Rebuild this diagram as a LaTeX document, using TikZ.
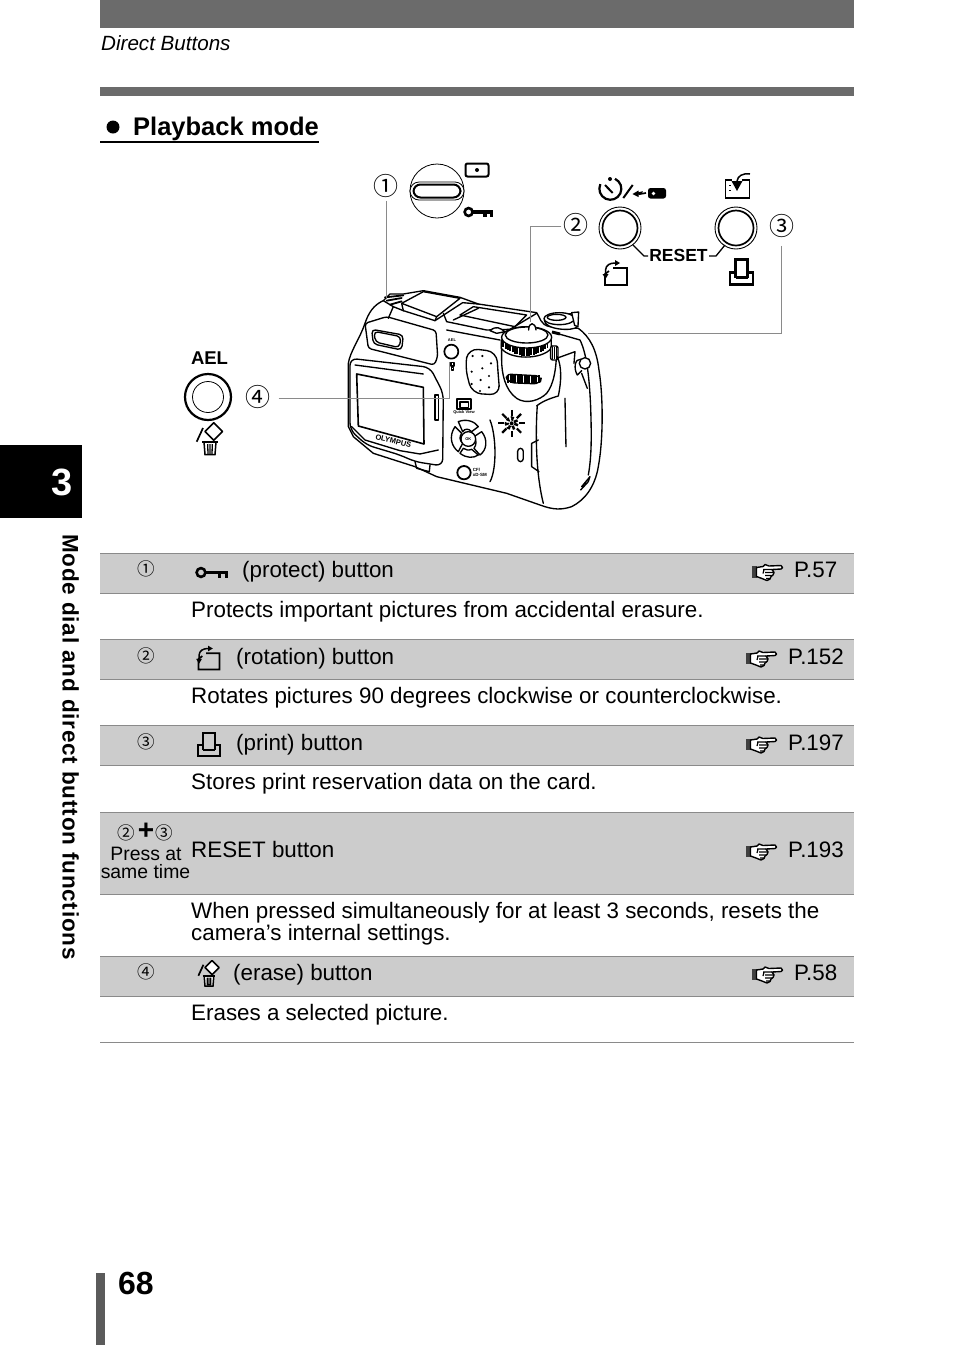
\documentclass[tikz,border=0pt]{standalone}
\usepackage{fontspec}
\setmainfont{Liberation Sans}
\newfontfamily\circfont{Noto Sans CJK SC}
\usetikzlibrary{calc}
\definecolor{band}{HTML}{CCCCCC}
\definecolor{rulegray}{HTML}{8A8A8A}
\definecolor{bargray}{HTML}{6B6B6B}
\tikzset{
  bodytext/.style={anchor=base west,inner sep=0pt,font=\fontsize{22.38}{24}\selectfont},
  reftext/.style={anchor=base east,inner sep=0pt,font=\fontsize{22.38}{24}\selectfont},
  smalltext/.style={anchor=base,inner sep=0pt,font=\fontsize{19.4}{20}\selectfont},
  circnum/.style={inner sep=0pt,font=\fontsize{17.5}{18}\selectfont\circfont},
  bigcirc/.style={inner sep=0pt,font=\fontsize{25}{26}\selectfont\circfont},
  leader/.style={draw=rulegray,line width=1pt},
  cam/.style={line width=1.35pt,line join=round,line cap=round},
  keypic/.pic={
    \draw[line width=2.6pt] (-11,0) circle (4.4);
    \fill (-6,-1.7) rectangle (16,1.7);
    \fill (5.5,0) rectangle (9,5.5);
    \fill (12.5,0) rectangle (16,5.5);
  },
  rotpic/.pic={
    \draw[line width=1.7pt] (-7,-2) -- (-11,1) -- (-11,12) -- (11,12) -- (11,-5) -- (-3,-5);
    \draw[line width=1.5pt] (-10.5,3) -- (-10.5,-3) .. controls (-10,-8) and (-6,-10) .. (-1,-10);
    \fill (-1,-13) -- (4,-10) -- (-1,-7) -- cycle;
    \fill (-13.5,1) -- (-10.5,6) -- (-7.5,1) -- cycle;
  },
  printpic/.pic={
    \draw[line width=2.1pt] (-6,5) -- (-6,-13) -- (6,-13) -- (6,5);
    \draw[line width=2.1pt] (-6,0) -- (-11.5,0) -- (-11.5,12) -- (11.5,12) -- (11.5,0) -- (6,0);
    \draw[line width=2.1pt] (-6,5) -- (6,5);
  },
  trashpic/.pic={
    \draw[line width=1.6pt,fill=white,line join=round] (3.8,-19.3) -- (12.6,-10.5) -- (3.8,-1.7) -- (-5,-10.5) -- cycle;
    \draw[line width=1.7pt] (-13.3,-0.3) -- (-7,-14);
    \draw[line width=1.7pt] (-8,0) -- (8,0);
    \draw[line width=1.5pt,fill=white] (-6,0) -- (-5,12.5) -- (5,12.5) -- (6,0) -- cycle;
    \draw[line width=1.3pt] (-2.3,2) -- (-2,12) (0,2) -- (0,12) (2.3,2) -- (2,12);
  },
  handpic/.pic={
    \fill[black!75] (-14.5,-6.5) rectangle (-9.5,5);
    \draw[line width=1.4pt,fill=white,line join=round] (-9.5,-5) -- (-3,-6) -- (-1,-8) -- (3,-6.5) -- (15,-7) -- (16.5,-5) -- (15,-3.5) -- (6,-3) -- (8,0) -- (7,2.5) -- (5,4) -- (4,6.5) -- (1,8) -- (-4,6) -- (-9.5,4) -- cycle;
    \draw[line width=1.2pt] (-3,-3) -- (6,-3) (-1,0) -- (8,0) (-1,3) -- (6,3) (-2,-3) -- (-3,1) (0,6) -- (4,6);
  }
}
\begin{document}
\begin{tikzpicture}[x=1pt,y=-1pt]
\useasboundingbox (0,0) rectangle (954,1345);
\fill[white] (0,0) rectangle (954,1345);
% page furniture
\fill[bargray] (100,0) rectangle (854,28);
\fill[bargray] (100,87) rectangle (854,96);
\node[anchor=base west,inner sep=0pt,font=\fontsize{20.6}{22}\selectfont\itshape] (hdr) at (101,50) {Direct Buttons};
\fill (0,445) rectangle (82,518);
\node[inner sep=0pt,text=white,font=\fontsize{38}{40}\selectfont\bfseries] (tabnum) at (62,482) {3};
\node[rotate=-90,anchor=base west,inner sep=0pt,font=\fontsize{22.5}{24}\selectfont\bfseries\addfontfeature{LetterSpace=3.5}] (sidetxt) at (62.5,534) {Mode dial and direct button functions};
\fill[bargray!85!black] (96,1273) rectangle (105,1345);
\node[anchor=base west,inner sep=0pt,font=\fontsize{32}{34}\selectfont\bfseries] (pageno) at (118,1294) {68};
% heading
\fill (113,127) circle (6.5);
\node[anchor=base west,inner sep=0pt,font=\fontsize{25.5}{27}\selectfont\bfseries] (hd) at (133,135) {Playback mode};
\draw[line width=1.4pt] (100,142) -- (319,142);

% ---------- camera (coordinates of a 3x view) ----------
\begin{scope}[shift={(340,280)},x=0.3333pt,y=-0.3333pt]
% silhouette
\draw[cam,fill=white] (25,250) .. controls (30,215) and (60,175) .. (75,130) .. controls (85,100) and (100,75) .. (130,62) -- (150,42) -- (190,42) -- (250,32) -- (360,52) -- (415,72) -- (590,98) .. controls (600,110) and (600,135) .. (630,140) -- (715,145) .. controls (750,170) and (770,210) .. (777,270) .. controls (790,350) and (790,480) .. (775,560) .. controls (765,620) and (735,660) .. (695,680) .. controls (665,690) and (640,690) .. (600,675) -- (500,640) -- (290,590) -- (225,560) -- (100,520) -- (40,470) -- (25,440) -- cycle;
% hot shoe
\draw[cam,fill=white] (185,70) -- (250,35) -- (360,55) -- (290,110) -- cycle;
\draw[cam] (190,92) -- (285,122) -- (368,68) -- (415,72);
\draw[cam] (185,70) -- (190,92) (290,110) -- (285,122);
\draw[cam,line width=1.8pt] (135,52) -- (190,46) (140,62) -- (185,54) (150,74) -- (185,64);
\draw[cam] (130,62) -- (160,80) -- (145,115);
\draw[cam] (160,80) -- (190,92);
% top display
\draw[cam] (360,105) -- (400,80) -- (560,105) -- (525,140) -- cycle;
\draw[cam] (310,100) -- (320,125) -- (440,150) -- (510,148) -- (590,100);
\draw[cam] (340,120) -- (415,85);
\draw[cam] (320,150) -- (480,180);
% viewfinder
\draw[cam,rounded corners=3pt] (75,130) -- (140,110) -- (288,152) -- (293,230) -- (283,255) -- (85,205) -- cycle;
\draw[cam,rounded corners=4pt] (95,148) -- (190,165) -- (185,210) -- (100,192) -- cycle;
\draw[cam,rounded corners=4pt] (102,154) -- (183,170) -- (178,203) -- (106,186) -- cycle;
% lcd panel
\draw[cam,fill=white,rounded corners=7pt] (30,235) -- (270,262) -- (310,340) -- (308,558) -- (225,545) -- (180,525) -- (80,495) -- (30,450) -- cycle;
\draw[cam,line width=1.6pt] (50,282) -- (250,322) -- (252,492) -- (55,438) -- cycle;
\draw[cam] (45,255) -- (250,282);
\draw[cam] (35,440) -- (75,480) -- (180,512) -- (240,522) -- (295,510);
\draw[cam] (25,300) -- (25,380);
\draw[cam] (285,345) -- (285,420) -- (295,420) -- (295,345) -- cycle;
\draw[cam] (225,545) -- (230,565) -- (268,575) -- (270,555);
\node[rotate=-14,inner sep=0pt,font=\fontsize{7.5}{8}\selectfont\bfseries] (brand) at (160,483) {OLYMPUS};
% AEL button
\draw[cam,line width=1.7pt] (334,215) circle (21);
\node[inner sep=0pt,font=\fontsize{4}{5}\selectfont\bfseries] (cael) at (336,180) {AEL};
\draw[cam] (333,248) rectangle (342,258);
\draw[cam] (335,262) rectangle (341,270);
% speaker panel
\draw[cam,rounded corners=10pt] (385,205) -- (470,215) -- (475,290) -- (480,345) -- (395,340) -- (375,260) -- cycle;
\foreach \a/\b in {398/228,427/228,453/250,395/275,427/265,447/288,395/312,422/300,447/322,420/333}
  \fill (\a,\b) circle (3.6);
% dial skirt
\draw[cam,fill=white] (485,190) -- (485,240) .. controls (485,280) and (495,330) .. (530,355) .. controls (560,375) and (600,360) .. (620,340) .. controls (640,315) and (650,270) .. (650,200) -- cycle;
\draw[cam,fill=white] (484,180) -- (484,205) .. controls (510,240) and (605,240) .. (634,205) -- (634,180) -- cycle;
\foreach \x in {490,497,...,628} \draw[line width=1.7pt] (\x,{200+28*sin((\x-488)*1.2857)}) -- (\x,{180+22*sin((\x-488)*1.2857)});
\draw[cam,fill=white] (560,172) ellipse (75 and 32);
\draw[cam,fill=white] (560,165) ellipse (64 and 24);
\draw[cam,fill=white] (566,150) .. controls (566,125) and (586,125) .. (588,150);
\draw[cam,fill=white,rounded corners=2pt] (632,198) rectangle (654,240);
\foreach \x in {637,643,649} \draw[line width=1.2pt] (\x,202) -- (\x,236);
\draw[cam,fill=white,rounded corners=6pt] (495,282) -- (605,288) -- (600,312) -- (505,308) -- cycle;
\foreach \x in {505,512,...,596} \draw[line width=1.8pt] (\x,286) -- (\x,308);
\draw[cam,fill=white] (450,152) .. controls (470,135) and (480,145) .. (495,155) -- (470,160) -- cycle;
% knob top-right
\draw[cam,fill=white] (613,120) .. controls (613,150) and (700,155) .. (712,140) -- (715,100) -- (640,105) -- cycle;
\draw[cam,fill=white] (658,116) ellipse (46 and 18);
\draw[cam] (650,112) ellipse (28 and 9);
\draw[cam,fill=white] (695,98) -- (716,96) -- (714,140) -- (704,136) -- cycle;
% grip and right side
\draw[cam] (650,160) -- (720,180) .. controls (740,220) and (748,290) .. (752,380) .. controls (755,470) and (755,530) .. (745,585);
\draw[line width=3pt] (636,156) -- (660,162);
\draw[cam] (590,378) .. controls (605,365) and (630,355) .. (655,348) .. controls (665,300) and (665,260) .. (652,230);
\draw[cam] (650,235) -- (705,215) -- (702,250);
\draw[cam] (592,376) .. controls (585,480) and (590,590) .. (610,670);
\draw[cam] (675,355) -- (678,500);
\draw[cam,fill=white] (735,250) circle (17);
\draw[cam] (722,238) .. controls (705,235) and (700,265) .. (712,285) -- (725,272);
\draw[cam] (725,280) -- (742,325);
% right lower features
\draw[cam,rounded corners=3pt] (533,505) rectangle (550,545);
\draw[cam] (575,490) -- (575,560) (575,490) -- (595,480) (575,560) -- (597,575);
\draw[cam] (725,620) -- (750,590) -- (745,605) -- (722,630);
% quick view
\draw[cam,line width=1.8pt] (352,358) rectangle (392,388);
\draw[cam] (360,366) rectangle (385,382);
\node[inner sep=0pt,font=\fontsize{4}{5}\selectfont\bfseries] (cqv) at (372,396) {Quick View};
% arrow pad
\draw[cam,fill=white] (355,425) .. controls (380,415) and (405,425) .. (415,440) -- (395,455) .. controls (385,445) and (375,445) .. (368,455) -- cycle;
\draw[cam,fill=white] (345,440) .. controls (325,470) and (335,500) .. (355,515) -- (368,490) .. controls (358,480) and (358,470) .. (365,460) -- cycle;
\draw[cam,fill=white] (425,455) .. controls (445,480) and (440,510) .. (420,525) -- (402,505) .. controls (410,495) and (410,480) .. (402,470) -- cycle;
\draw[cam,fill=white] (360,520) .. controls (380,535) and (400,535) .. (415,525) -- (395,508) .. controls (385,512) and (378,510) .. (370,505) -- cycle;
\draw[cam,fill=white] (385,477) circle (22);
\node[inner sep=0pt,font=\fontsize{4}{5}\selectfont\bfseries,align=center] (cok) at (385,477) {OK};
% star dial
\foreach \r in {0,45,...,315}
  \draw[line width=2.2pt,rotate around={\r:(515,430)}] (515,390) -- (515,408);
\draw[line width=4pt,dash pattern=on 2.5pt off 2pt] (515,430) circle (15);
\fill (515,430) circle (6);
\draw[cam] (450,420) .. controls (470,470) and (470,570) .. (450,605);
% card button
\draw[cam,line width=1.8pt] (372,578) circle (20);
\node[anchor=west,inner sep=0pt,font=\fontsize{4.5}{5}\selectfont\bfseries,align=left] (ccard) at (398,578) {CF/\\xD·SM};
\end{scope}

% ---------- lock switch ----------
\draw[line width=.8pt] (437,191) circle (27);
\draw[line width=.8pt,fill=white,rounded corners=9pt] (410,182) rectangle (464,200);
\draw[line width=2pt,fill=white,rounded corners=7pt] (413.5,184.5) rectangle (460.5,197.5);
\draw[line width=2pt,rounded corners=2pt] (465.5,163.5) rectangle (488.5,176.5);
\fill (477,170) circle (2);
\pic[scale=.9] at (478.5,212) {keypic};
% ---------- buttons ----------
\node[bigcirc] (n1) at (386,186) {①};
\node[bigcirc] (n2) at (576,225) {②};
\node[bigcirc] (n3) at (782,226) {③};
\node[bigcirc] (n4) at (258,397) {④};
\foreach \n/\x in {bl/620,br/736}{
  \node[circle,draw,line width=.9pt,minimum size=42pt,inner sep=0pt] (\n o) at (\x,228) {};
  \node[circle,draw,line width=1.7pt,minimum size=35pt,inner sep=0pt] (\n i) at (\x,228) {};
}
\node[inner sep=0pt,font=\fontsize{17.5}{18}\selectfont\bfseries] (reset) at (678.5,255) {RESET};
\draw[line width=1.3pt] (633,245) -- (644,256) -- (648,256);
\draw[line width=1.3pt] (709,256) -- (716,256) -- (725,245);
% timer / flash
\draw[line width=2.2pt] (615,178.8) arc (-65:205:11);
\fill (610,179) circle (2);
\draw[line width=2pt] (605,185) -- (612.7,193);
\draw[line width=2pt] (623.3,198) -- (632.7,185);
\draw[line width=1.7pt] (637,193.5) -- (641,192.5) -- (640,194) -- (646,193);
\fill (632.5,194) -- (638.5,190.5) -- (638.5,197) -- cycle;
\fill[rounded corners=2.5pt] (648,188) rectangle (666,198.5);
\fill[white] (653.5,193.5) circle (1.8);
% card icon
\draw[line width=1.7pt] (725.5,180) rectangle (749.5,198);
\draw[white,line width=2.5pt] (732,180) -- (742,180);
\draw[line width=1.5pt] (737,181) .. controls (738,176) and (742,173) .. (750,174);
\fill (731.5,181) -- (742.5,181) -- (737,191) -- cycle;
\draw[line width=1pt] (729,185) -- (731,185) (729,190) -- (731,190);
\pic at (616,273) {rotpic};
\pic at (741.5,272.5) {printpic};
% AEL
\node[inner sep=0pt,font=\fontsize{18.5}{20}\selectfont\bfseries] (ael) at (209.5,358) {AEL};
\node[circle,draw,line width=2.2pt,minimum size=46pt,inner sep=0pt] (aelo) at (208,397) {};
\node[circle,draw,line width=.8pt,minimum size=31pt,inner sep=0pt] (aeli) at (208,397) {};
\pic at (210,442) {trashpic};
% ---------- leaders ----------
\coordinate (t1) at (386,298);
\coordinate (t2) at (530.5,322);
\coordinate (c2) at (530.5,226);
\coordinate (t3) at (588,333);
\coordinate (c3) at (781,333);
\coordinate (t4) at (449,362);
\coordinate (c4) at (449,398);
\draw[leader] (n1.south -| t1) ++(0,3) -- (t1);
\draw[leader] ($(n2.west)+(-2,1)$) -- (c2) -- (t2);
\draw[leader] ($(n3.south)+(-1,8)$) -- (c3) -- (t3);
\draw[leader] ($(n4.east)+(8,1)$) -- (c4) -- (t4);

% ---------- table ----------
\foreach \a/\b in {553/593,639/679,725/765,812/894,956/996}{
  \fill[band] (100,\a) rectangle (854,\b);
  \draw[rulegray,line width=1pt] (100,\a.5) -- (854,\a.5);
  \draw[rulegray,line width=1pt] (100,\b.5) -- (854,\b.5);
}
\draw[rulegray,line width=1pt] (100,1042.5) -- (854,1042.5);

\node[circnum] (r1) at (146,569) {①};
\pic at (212,572.5) {keypic};
\node[bodytext] (t1a) at (242,577) {(protect) button};
\pic at (766,572.5) {handpic};
\node[reftext] (p1) at (837.5,577) {P.57};
\node[bodytext] (d1) at (191,617.3) {Protects important pictures from accidental erasure.};

\node[circnum] (r2) at (146,656) {②};
\pic[scale=.95] at (209,658) {rotpic};
\node[bodytext] (t2a) at (236,664.3) {(rotation) button};
\pic at (760,659) {handpic};
\node[reftext] (p2) at (844,664.3) {P.152};
\node[bodytext] (d2) at (191,703.3) {Rotates pictures 90 degrees clockwise or counterclockwise.};

\node[circnum] (r3) at (146,742) {③};
\pic[scale=.95] at (209,745) {printpic};
\node[bodytext] (t3a) at (236,750) {(print) button};
\pic at (760,745) {handpic};
\node[reftext] (p3) at (844,750) {P.197};
\node[bodytext] (d3) at (191,789.3) {Stores print reservation data on the card.};

\node[circnum] (r5a) at (126.5,832.5) {②};
\node[inner sep=0pt,font=\fontsize{28}{29}\selectfont\bfseries] (r5p) at (146,831) {+};
\node[circnum] (r5b) at (164,832.5) {③};
\node[smalltext] (r5c) at (146,860) {Press at};
\node[smalltext] (r5d) at (145.5,878) {same time};
\node[bodytext] (t5a) at (191,857) {RESET button};
\pic at (760,852) {handpic};
\node[reftext] (p5) at (844,857) {P.193};
\node[bodytext] (d5a) at (191,918.2) {When pressed simultaneously for at least 3 seconds, resets the};
\node[bodytext] (d5b) at (191,940.2) {camera’s internal settings.};

\node[circnum] (r4) at (146,972) {④};
\pic[scale=.8] at (209,976) {trashpic};
\node[bodytext] (t4a) at (233,980) {(erase) button};
\pic at (766,975) {handpic};
\node[reftext] (p4) at (837.5,980) {P.58};
\node[bodytext] (d4) at (191,1020.6) {Erases a selected picture.};
\end{tikzpicture}
\end{document}
